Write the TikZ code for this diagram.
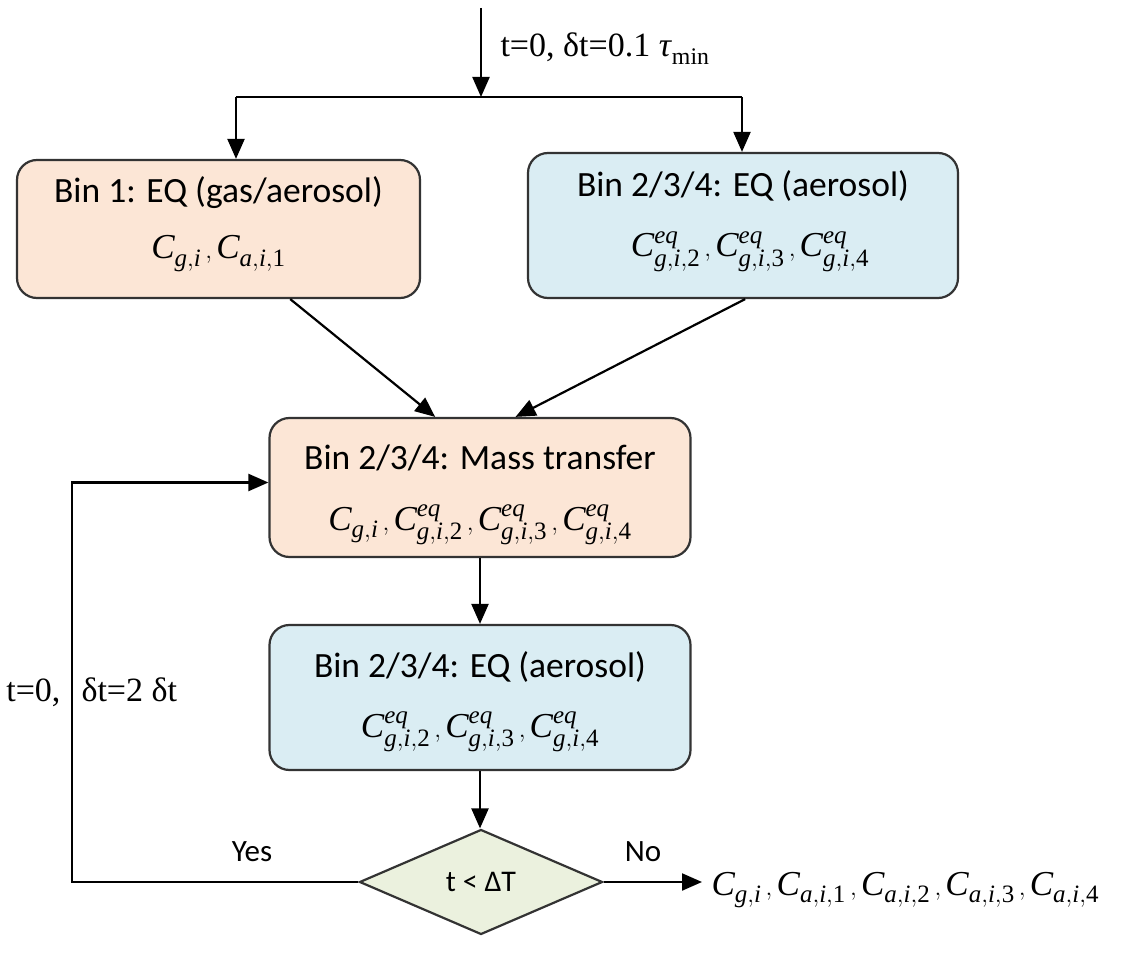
\documentclass[tikz,border=0pt]{standalone}
\usepackage{fontspec}
\setmainfont{Liberation Serif}
\newfontfamily\calibri{Carlito}
\usetikzlibrary{arrows.meta,shapes.geometric,calc}
\DeclareMathSizes{35}{35}{25}{20}
\definecolor{peach}{HTML}{FCE6D6}
\definecolor{lblue}{HTML}{DAEDF3}
\definecolor{lgreen}{HTML}{EBF1DE}
\definecolor{edge}{HTML}{333333}
\newcommand\Cg[1]{\mathit{C}_{\mathit{g},\mathit{i}#1}}
\newcommand\Ca[1]{\mathit{C}_{\mathit{a},\mathit{i},\mathrm{#1}}}
\newcommand\Ce[1]{\mathit{C}^{\mathit{eq}}_{\mathit{g},\mathit{i},\mathrm{#1}}}
\begin{document}
\begin{tikzpicture}[x=1pt,y=-1pt,
 box/.style={draw=edge,line width=2.2pt,rounded corners=20pt,inner sep=0pt},
 arr/.style={line width=2.2pt,-{Triangle[length=20pt,width=17pt]}},
 ln/.style={line width=2.2pt},
 ttl/.style={font=\calibri\fontsize{35.5}{42}\selectfont,anchor=base},
 mth/.style={font=\fontsize{35}{42}\selectfont,anchor=base},
 lbl/.style={font=\calibri\fontsize{31}{36}\selectfont},
 srf/.style={font=\fontsize{34}{38}\selectfont}]
\useasboundingbox (0,0) rectangle (1125,957);

\node[box,fill=peach,minimum width=403pt,minimum height=138pt] (b1) at (218.5,229) {};
\node[box,fill=lblue,minimum width=430pt,minimum height=145pt] (b2) at (743,225.5) {};
\node[box,fill=peach,minimum width=421pt,minimum height=139pt] (b3) at (480,487.5) {};
\node[box,fill=lblue,minimum width=421pt,minimum height=145pt] (b4) at (480,697.5) {};
\node[draw=edge,line width=2.2pt,fill=lgreen,diamond,aspect=2.3,inner sep=0pt,minimum width=243pt,minimum height=105pt,font=\calibri\fontsize{30}{36}\selectfont] (d) at (481,882) {t < ΔT};

\node[ttl] (t1) at (218.5,203) {Bin 1: EQ (gas/aerosol)};
\node[mth] (m1) at (218.5,259) {$\Cg{}\,,\Ca{1}$};
\node[ttl] (t2) at (743,197) {Bin 2/3/4: EQ (aerosol)};
\node[mth] (m2) at (750,257) {$\Ce{2}\,,\Ce{3}\,,\Ce{4}$};
\node[ttl] (t3) at (480,470) {Bin 2/3/4: Mass transfer};
\node[mth] (m3) at (480,530) {$\Cg{}\,,\Ce{2}\,,\Ce{3}\,,\Ce{4}$};
\node[ttl] (t4) at (480,677) {Bin 2/3/4: EQ (aerosol)};
\node[mth] (m4) at (480,737) {$\Ce{2}\,,\Ce{3}\,,\Ce{4}$};

\node[srf,anchor=base west] (lt) at (497,57) {t=0, δt=0.1 \textit{τ}\textsubscript{min}};
\node[srf,anchor=base east] (ll1) at (64,701) {t=0,};
\node[srf,anchor=base west] (ll2) at (78,701) {δt=2 δt};
\node[lbl] (yes) at (252,852) {Yes};
\node[lbl] (no) at (643,852) {No};
\node[mth,anchor=base west] (out) at (708,895) {$\Cg{}\,,\Ca{1}\,,\Ca{2}\,,\Ca{3}\,,\Ca{4}$};

\coordinate (top) at (481,8);
\coordinate (sp) at (481,97);
\coordinate (sl) at (236,97);
\coordinate (sr) at (742,97);
\coordinate (lx) at (72,0);
\draw[arr] (top) -- (sp);
\draw[ln] (sl) -- (sr);
\draw[arr] (sl) -- (sl |- b1.north);
\draw[arr] (sr) -- (sr |- b2.north);
\draw[arr] ($(b1.south west)!0.677!(b1.south east)$) -- ($(b3.north west)!0.394!(b3.north east)$);
\draw[arr] ($(b2.south west)!0.505!(b2.south east)$) -- ($(b3.north west)!0.584!(b3.north east)$);
\draw[arr] (b3.south) -- (b4.north);
\draw[arr] (b4.south) -- (b4.south |- d.north);
\draw[arr] (d.west) -- (d.west -| lx) |- ($(b3.west)+(0,-5)$);
\draw[arr] (d.east) -- ($(d.east -| out.west)+(-6,0)$);
\end{tikzpicture}
\end{document}
